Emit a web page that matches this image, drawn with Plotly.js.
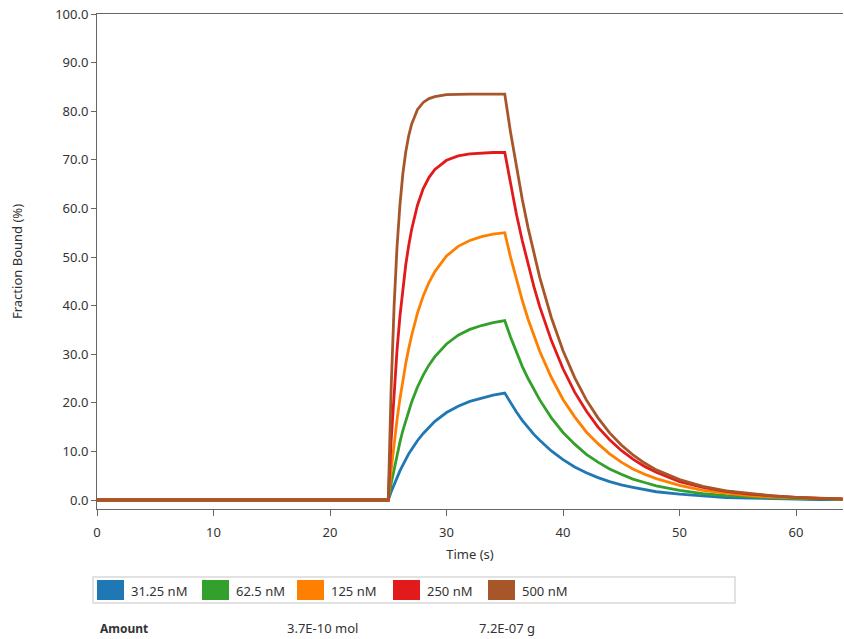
<!DOCTYPE html>
<html><head><meta charset="utf-8">
<script src="https://cdn.plot.ly/plotly-3.0.1.min.js"></script>
<style>html,body{margin:0;padding:0;background:#fff}#chart{width:844px;height:639px}</style>
</head><body><div id="chart"></div>
<script>
// ---- data ----
const timeS = [0, 25, 25.25, 25.5, 25.75, 26, 26.25, 26.5, 26.75, 27, 27.5, 28, 28.5, 29, 30, 31, 32, 33, 34, 35,
  35.5, 36, 36.5, 37, 37.5, 38, 39, 40, 41, 42, 43, 44, 45, 46, 47, 48, 50, 52, 54, 56, 58, 60, 62, 64];
const seriesNames = ["31.25 nM", "62.5 nM", "125 nM", "250 nM", "500 nM"];
const bound31 = [0, 0, 1.7, 3.2, 4.7, 6.0, 7.2, 8.4, 9.5, 10.4, 12.2, 13.7, 15.0, 16.2, 18.0, 19.3, 20.3, 21.0, 21.6, 22.0,
  20.0, 18.1, 16.4, 14.9, 13.5, 12.3, 10.1, 8.3, 6.8, 5.6, 4.6, 3.8, 3.1, 2.6, 2.1, 1.7, 1.2, 0.8, 0.5, 0.4, 0.25, 0.17, 0.10, 0.07];
const bound62 = [0, 0, 3.4, 6.5, 9.4, 11.9, 14.3, 16.4, 18.3, 20.1, 23.2, 25.7, 27.8, 29.5, 32.1, 33.9, 35.1, 35.9, 36.5, 36.9,
  33.5, 30.4, 27.5, 25.0, 22.7, 20.6, 16.9, 13.9, 11.5, 9.4, 7.8, 6.4, 5.3, 4.3, 3.6, 2.9, 2.0, 1.3, 0.9, 0.6, 0.42, 0.28, 0.17, 0.11];
const bound125 = [0, 0, 6.2, 11.6, 16.5, 20.8, 24.7, 28.1, 31.1, 33.8, 38.4, 42.0, 44.8, 47.0, 50.2, 52.2, 53.4, 54.2, 54.7, 55.0,
  49.9, 45.3, 41.1, 37.2, 33.8, 30.6, 25.2, 20.7, 17.1, 14.0, 11.6, 9.5, 7.8, 6.4, 5.3, 4.4, 3.0, 2.0, 1.4, 0.9, 0.62, 0.42, 0.25, 0.17];
const bound250 = [0, 0, 12.3, 22.4, 30.8, 37.8, 43.6, 48.4, 52.3, 55.6, 60.6, 64.1, 66.4, 68.0, 69.9, 70.8, 71.2, 71.4, 71.5, 71.5,
  64.9, 58.8, 53.4, 48.4, 43.9, 39.8, 32.8, 27.0, 22.2, 18.3, 15.0, 12.4, 10.2, 8.4, 6.9, 5.7, 3.8, 2.6, 1.8, 1.2, 0.81, 0.54, 0.33, 0.22];
const bound500 = [0, 0, 23.2, 39.9, 52.0, 60.7, 67.1, 71.6, 74.9, 77.3, 80.3, 81.8, 82.6, 83.0, 83.4, 83.5, 83.5, 83.5, 83.5, 83.5,
  75.6, 68.4, 61.9, 56.0, 50.6, 45.8, 37.5, 30.7, 25.2, 20.6, 16.9, 13.8, 11.3, 9.3, 7.6, 6.2, 4.2, 2.8, 1.9, 1.3, 0.84, 0.56, 0.38, 0.25];
const amountLabel = "Amount";
const amountMol = "3.7E-10 mol";
const amountMass = "7.2E-07 g";
const xTitle = "Time (s)";
const yTitle = "Fraction Bound (%)";

// ---- styling ----
const allSeries = [bound31, bound62, bound125, bound250, bound500];
const colors = ["#1f78b4", "#33a02c", "#ff7f00", "#e31a1c", "#a65628"];
const FONT = "Noto Sans, Open Sans, sans-serif";
const L = 97, R = 843, T = 14, B = 509;
const px = x => (x - L) / (R - L);
const py = y => (B - y) / (B - T);

const traces = allSeries.map((ys, i) => ({
  type: "scatter", mode: "lines", x: timeS, y: ys, name: seriesNames[i],
  line: {color: colors[i], width: 2.8}, hoverinfo: "skip"
}));

// legend drawn as a boxed row of swatches
const swatchLeft = [97, 202, 297, 393, 488];
const shapes = [{type: "rect", xref: "paper", yref: "paper", x0: px(93), x1: px(735), y0: py(603), y1: py(577),
  line: {color: "#e2e2e2", width: 2}, fillcolor: "rgba(0,0,0,0)"}];
const annotations = [];
seriesNames.forEach((n, i) => {
  shapes.push({type: "rect", xref: "paper", yref: "paper", x0: px(swatchLeft[i]), x1: px(swatchLeft[i] + 27),
    y0: py(600), y1: py(580), line: {width: 0}, fillcolor: colors[i]});
  annotations.push({xref: "paper", yref: "paper", x: px(swatchLeft[i] + 32), y: py(590.5), xanchor: "left", yanchor: "middle",
    text: n, showarrow: false, font: {family: FONT, size: 13, color: "#333"}});
});
annotations.push({xref: "paper", yref: "paper", x: px(98), y: py(628), xanchor: "left", yanchor: "middle",
  text: "<b>" + amountLabel + "</b>", showarrow: false, font: {family: FONT, size: 12, color: "#333"}});
annotations.push({xref: "paper", yref: "paper", x: px(285), y: py(628), xanchor: "left", yanchor: "middle",
  text: amountMol, showarrow: false, font: {family: FONT, size: 13, color: "#333"}});
annotations.push({xref: "paper", yref: "paper", x: px(477), y: py(628), xanchor: "left", yanchor: "middle",
  text: amountMass, showarrow: false, font: {family: FONT, size: 13, color: "#333"}});

const layout = {
  width: 844, height: 639,
  margin: {l: L, r: 844 - R, t: T, b: 639 - B, pad: 0},
  paper_bgcolor: "#fff", plot_bgcolor: "#fff",
  font: {family: FONT, size: 13, color: "#333"},
  showlegend: false,
  xaxis: {range: [0, 64.03], dtick: 10, tick0: 0, showgrid: false, zeroline: false,
    showline: true, mirror: true, linecolor: "#666", linewidth: 1,
    ticks: "outside", ticklen: 6, tickcolor: "#666", ticklabelstandoff: 5,
    tickfont: {family: FONT, size: 13, color: "#333"},
    title: {text: xTitle, font: {family: FONT, size: 13, color: "#333"}, standoff: 10}},
  yaxis: {range: [-1.85, 100], dtick: 10, tick0: 0, tickformat: ".1f", showgrid: false, zeroline: false,
    showline: true, linecolor: "#666", linewidth: 1,
    ticks: "outside", ticklen: 5, tickcolor: "#666", tickfont: {family: FONT, size: 13, color: "#333"},
    title: {text: yTitle, font: {family: FONT, size: 13, color: "#333"}, standoff: 29}},
  shapes: shapes, annotations: annotations
};
Plotly.newPlot("chart", traces, layout, {staticPlot: true, displayModeBar: false});
</script></body></html>
